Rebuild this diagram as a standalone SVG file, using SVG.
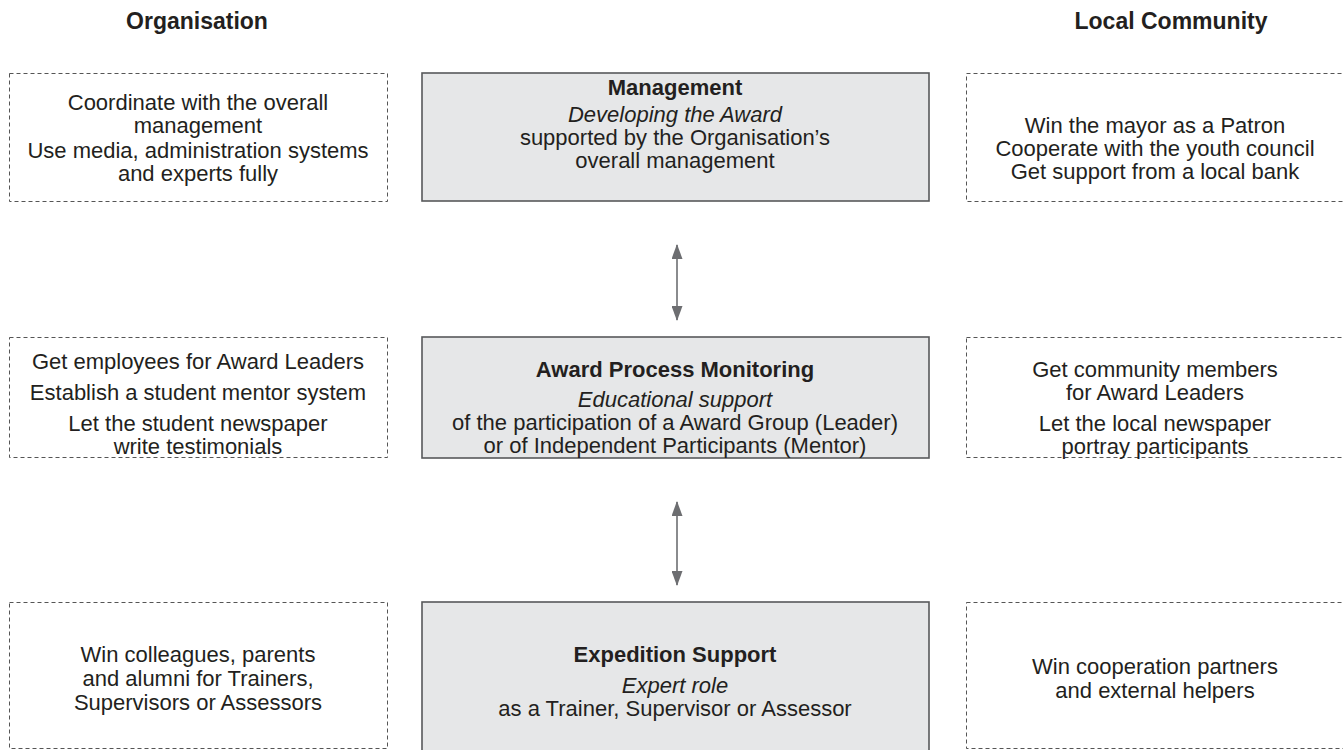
<svg xmlns="http://www.w3.org/2000/svg" width="1343" height="750" viewBox="0 0 1343 750">
  <style>
    text { font-family: "Liberation Sans", Arial, Helvetica, sans-serif; fill: #231f20; text-anchor: middle; font-size: 22px; }
    .hdr { font-weight: bold; font-size: 23px; }
    .title { font-weight: bold; }
    .it { font-style: italic; }
    .side { fill: #ffffff; stroke: #555555; stroke-width: 1; stroke-dasharray: 4 3; }
    .core { fill: #e6e7e8; stroke: #58595b; stroke-width: 1.6; }
    .link { stroke: #6d6e71; stroke-width: 1.6; fill: none; }
  </style>
  <defs>
    <marker id="tip" viewBox="0 0 15 11" refX="14" refY="5.5" markerWidth="15" markerHeight="11" markerUnits="userSpaceOnUse" orient="auto-start-reverse">
      <path d="M0,0 L15,5.5 L0,11 Z" fill="#6d6e71"/>
    </marker>
  </defs>

  <!-- column headings -->
  <text class="hdr" x="197" y="29">Organisation</text>
  <text class="hdr" x="1171" y="29">Local Community</text>

  <!-- Organisation column -->
  <g id="org-management">
    <rect class="side" x="9.5" y="73.5" width="378" height="128"/>
    <text x="198" y="110">Coordinate with the overall</text>
    <text x="198" y="133">management</text>
    <text x="198" y="158">Use media, administration systems</text>
    <text x="198" y="181">and experts fully</text>
  </g>
  <g id="org-monitoring">
    <rect class="side" x="9.5" y="337.5" width="378" height="120"/>
    <text x="198" y="369">Get employees for Award Leaders</text>
    <text x="198" y="400">Establish a student mentor system</text>
    <text x="198" y="431">Let the student newspaper</text>
    <text x="198" y="454">write testimonials</text>
  </g>
  <g id="org-expedition">
    <rect class="side" x="9.5" y="602.5" width="378" height="146"/>
    <text x="198" y="662">Win colleagues, parents</text>
    <text x="198" y="686">and alumni for Trainers,</text>
    <text x="198" y="710">Supervisors or Assessors</text>
  </g>

  <!-- core roles -->
  <g id="management">
    <rect class="core" x="422" y="73" width="507" height="128"/>
    <text class="title" x="675" y="95">Management</text>
    <text class="it" x="675" y="122">Developing the Award</text>
    <text x="675" y="145">supported by the Organisation’s</text>
    <text x="675" y="168">overall management</text>
  </g>
  <g id="monitoring">
    <rect class="core" x="422" y="337" width="507" height="121"/>
    <text class="title" x="675" y="377">Award Process Monitoring</text>
    <text class="it" x="675" y="407">Educational support</text>
    <text x="675" y="430">of the participation of a Award Group (Leader)</text>
    <text x="675" y="453">or of Independent Participants (Mentor)</text>
  </g>
  <g id="expedition">
    <rect class="core" x="422" y="602" width="507" height="160"/>
    <text class="title" x="675" y="662">Expedition Support</text>
    <text class="it" x="675" y="693">Expert role</text>
    <text x="675" y="716">as a Trainer, Supervisor or Assessor</text>
  </g>

  <!-- Local Community column -->
  <g id="community-management">
    <rect class="side" x="966.5" y="73.5" width="390" height="128"/>
    <text x="1155" y="133">Win the mayor as a Patron</text>
    <text x="1155" y="156">Cooperate with the youth council</text>
    <text x="1155" y="179">Get support from a local bank</text>
  </g>
  <g id="community-monitoring">
    <rect class="side" x="966.5" y="337.5" width="390" height="120"/>
    <text x="1155" y="377">Get community members</text>
    <text x="1155" y="400">for Award Leaders</text>
    <text x="1155" y="431">Let the local newspaper</text>
    <text x="1155" y="454">portray participants</text>
  </g>
  <g id="community-expedition">
    <rect class="side" x="966.5" y="602.5" width="390" height="146"/>
    <text x="1155" y="674">Win cooperation partners</text>
    <text x="1155" y="698">and external helpers</text>
  </g>

  <!-- two-way links between the roles -->
  <g id="connectors">
    <line class="link" x1="677" y1="245" x2="677" y2="320" marker-start="url(#tip)" marker-end="url(#tip)"/>
    <line class="link" x1="677" y1="502" x2="677" y2="585" marker-start="url(#tip)" marker-end="url(#tip)"/>
  </g>
</svg>
